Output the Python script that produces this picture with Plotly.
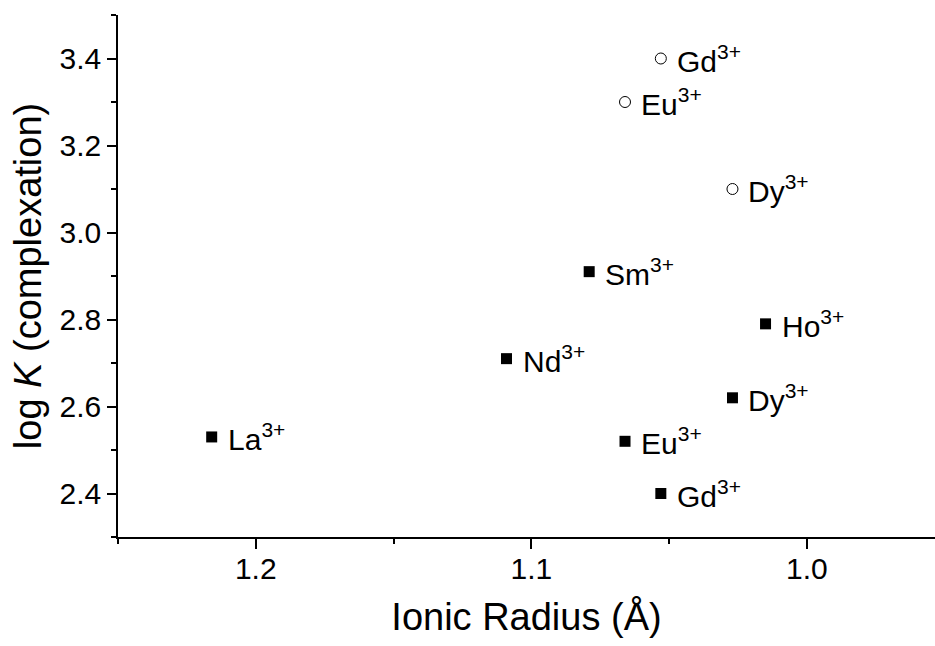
import plotly.graph_objects as go

# Ionic radii (Å) and log K values for the two complexation series
ions_solid = ["La", "Nd", "Sm", "Eu", "Gd", "Dy", "Ho"]
radius_solid = [1.216, 1.109, 1.079, 1.066, 1.053, 1.027, 1.015]
logk_solid = [2.53, 2.71, 2.91, 2.52, 2.40, 2.62, 2.79]

ions_open = ["Gd", "Eu", "Dy"]
radius_open = [1.053, 1.066, 1.027]
logk_open = [3.40, 3.30, 3.10]

x_ticks = [1.2, 1.1, 1.0]
y_ticks = [2.4, 2.6, 2.8, 3.0, 3.2, 3.4]

FONT = "Liberation Sans, Arial, sans-serif"

fig = go.Figure()
fig.add_trace(go.Scatter(
    x=radius_solid, y=logk_solid, mode="markers",
    marker=dict(symbol="square", size=11, color="black", line=dict(width=0)),
    showlegend=False, cliponaxis=False,
))
fig.add_trace(go.Scatter(
    x=radius_open, y=logk_open, mode="markers",
    marker=dict(symbol="circle-open", size=11, color="black", line=dict(width=1)),
    showlegend=False, cliponaxis=False,
))

for ion, xv, yv in list(zip(ions_solid, radius_solid, logk_solid)) + list(zip(ions_open, radius_open, logk_open)):
    fig.add_annotation(
        x=xv, y=yv, text=f"{ion}<sup>3+</sup>", showarrow=False,
        xanchor="left", yanchor="middle", xshift=14, yshift=0,
        font=dict(family=FONT, size=30, color="black"),
    )

fig.update_xaxes(
    range=[1.25, 0.9535], autorange=False,
    tickvals=x_ticks, ticktext=[f"{v:.1f}" for v in x_ticks],
    ticks="outside", ticklen=10, tickwidth=1.5, tickcolor="black",
    minor=dict(tickvals=[1.25, 1.15, 1.05], ticks="outside", ticklen=5, tickwidth=1.5, tickcolor="black"),
    showline=True, linecolor="black", linewidth=1.5, showgrid=False, zeroline=False,
    tickfont=dict(family=FONT, size=30, color="black"),
    ticklabelstandoff=-6,
    title=dict(text="Ionic Radius (Å)", font=dict(family=FONT, size=38, color="black"), standoff=20),
)
fig.update_yaxes(
    range=[2.3, 3.5], autorange=False,
    tickvals=y_ticks, ticktext=[f"{v:.1f}" for v in y_ticks],
    ticks="outside", ticklen=9, tickwidth=1.5, tickcolor="black",
    minor=dict(tickvals=[2.3, 2.5, 2.7, 2.9, 3.1, 3.3, 3.5], ticks="outside", ticklen=5, tickwidth=1.5, tickcolor="black"),
    showline=True, linecolor="black", linewidth=1.5, showgrid=False, zeroline=False,
    tickfont=dict(family=FONT, size=30, color="black"),
    title=dict(text="log <i>K</i> (complexation)", font=dict(family=FONT, size=38, color="black"), standoff=6),
)

fig.update_layout(
    width=935, height=646,
    margin=dict(l=118, r=0, t=15, b=109),
    plot_bgcolor="white", paper_bgcolor="white",
)

fig.write_html("out.html")
